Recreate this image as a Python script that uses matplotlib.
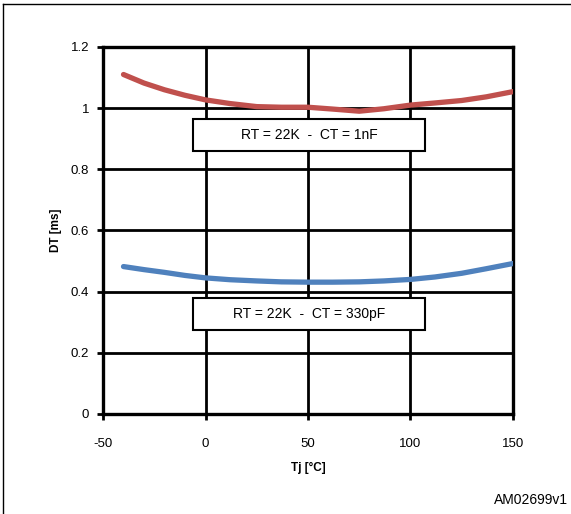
import matplotlib
matplotlib.use("Agg")
import matplotlib.pyplot as plt
from matplotlib.lines import Line2D
from matplotlib.patches import Rectangle

plt.rcParams['font.family'] = ['Liberation Sans', 'DejaVu Sans']
plt.rcParams['axes.unicode_minus'] = False

# junction temperature [°C]
tj = [-40, -30, -20, -10, 0, 12, 25, 37, 50, 62, 75, 87, 100, 112, 125, 137, 150]
# DT [ms], RT = 22K, CT = 1nF
dt_1nf = [1.11, 1.082, 1.06, 1.042, 1.027, 1.015, 1.005, 1.003, 1.003, 0.997, 0.99, 0.998, 1.01, 1.017, 1.025, 1.037, 1.054]
# DT [ms], RT = 22K, CT = 330pF
dt_330pf = [0.482, 0.472, 0.463, 0.453, 0.445, 0.439, 0.435, 0.432, 0.431, 0.431, 0.432, 0.435, 0.440, 0.448, 0.460, 0.475, 0.492]

labels = ["RT = 22K  -  CT = 1nF", "RT = 22K  -  CT = 330pF"]
# box extents: (x0, x1, y0, y1) in data units
boxes = [(-6, 107, 0.860, 0.965), (-6, 107, 0.275, 0.379)]

fig = plt.figure(figsize=(5.71, 5.14), dpi=100)
ax = fig.add_axes([0.1804, 0.1946, 0.718, 0.714])

ax.plot(tj, dt_1nf, color="#C0504D", lw=3.8, solid_capstyle="round", zorder=3)
ax.plot(tj, dt_330pf, color="#4F81BD", lw=3.8, solid_capstyle="round", zorder=3)

ax.set_xlim(-50, 150)
ax.set_ylim(0, 1.2)
ax.set_xticks([-50, 0, 50, 100, 150])
ax.set_yticks([0, 0.2, 0.4, 0.6, 0.8, 1.0, 1.2])
ax.set_yticklabels(["0", "0.2", "0.4", "0.6", "0.8", "1", "1.2"])
ax.grid(True, color="black", lw=2.0)
ax.set_axisbelow(True)
for s in ax.spines.values():
    s.set_linewidth(2.4)
ax.tick_params(axis="both", direction="out", length=4, width=2, labelsize=9.5, pad=6)
ax.tick_params(axis="x", pad=13)

ax.set_xlabel("Tj [°C]", fontsize=8.5, fontweight="bold", labelpad=9)
ax.set_ylabel("DT [ms]", fontsize=8.5, fontweight="bold", labelpad=6)

for txt, (x0, x1, y0, y1) in zip(labels, boxes):
    ax.add_patch(Rectangle((x0, y0), x1 - x0, y1 - y0, fc="white", ec="black", lw=1.5, zorder=5))
    ax.text((x0 + x1) / 2, (y0 + y1) / 2, txt, ha="center", va="center", fontsize=10, zorder=6)

# outer frame (only top and left visible)
fig.add_artist(Line2D([0.006, 1.0], [0.992, 0.992], color="black", lw=1.0, transform=fig.transFigure))
fig.add_artist(Line2D([0.006, 0.006], [0.0, 0.992], color="black", lw=1.0, transform=fig.transFigure))

fig.text(0.995, 0.027, "AM02699v1", ha="right", va="center", fontsize=10)

fig.savefig("out.png", dpi=100)
